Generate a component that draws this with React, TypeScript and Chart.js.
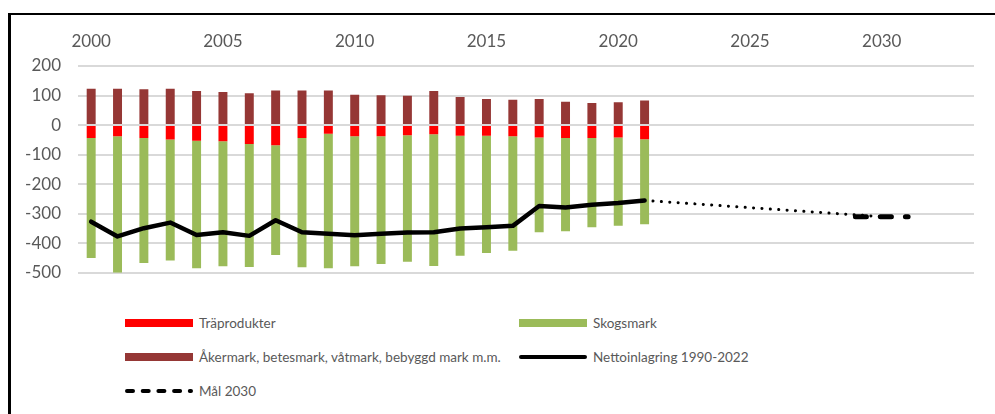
import React, { useEffect, useRef } from "react";
import { Chart, registerables } from "chart.js";

Chart.register(...registerables);

const years = [
  "2000", "2001", "2002", "2003", "2004", "2005", "2006", "2007", "2008", "2009",
  "2010", "2011", "2012", "2013", "2014", "2015", "2016", "2017", "2018", "2019",
  "2020", "2021", "2022", "2023", "2024", "2025", "2026", "2027", "2028", "2029",
  "2030", "2031", "2032", "2033",
];

const yTicks = [200, 100, 0, -100, -200, -300, -400, -500];

const traprodukter = [-44, -38, -44, -49, -53, -55, -64, -68, -44, -29, -38, -38, -34, -31, -36, -36, -38, -42, -44, -44, -42, -48];
const skogsmark = [-406, -462, -423, -409, -432, -423, -416, -372, -437, -456, -440, -432, -429, -446, -406, -397, -387, -321, -315, -302, -299, -288];
const akermark = [123, 123, 121, 123, 115, 112, 108, 117, 117, 117, 103, 101, 99, 115, 95, 88, 86, 88, 79, 75, 77, 83];
const netto = [-327, -377, -349, -330, -372, -363, -375, -322, -363, -368, -373, -368, -364, -363, -350, -346, -341, -274, -279, -270, -264, -255];
// projected path: [year, value]
const projection: [string, number][] = [["2021", -255], ["2030", -310]];
const mal2030: [string, number][] = [["2029", -310], ["2030", -310], ["2031", -310]];

const labels = {
  tra: "Träprodukter",
  skog: "Skogsmark",
  aker: "Åkermark, betesmark, våtmark, bebyggd mark m.m.",
  netto: "Nettoinlagring 1990-2022",
  mal: "Mål 2030",
};

const colors = {
  tra: "#FF0000",
  skog: "#9BBB59",
  aker: "#953735",
  line: "#000000",
  grid: "#D9D9D9",
  text: "#595959",
};

const FONT = "Lato, 'Open Sans', 'Noto Sans', sans-serif";

function pad(values: number[]): (number | null)[] {
  return years.map((_, i) => (i < values.length ? values[i] : null));
}
function sparse(points: [string, number][]): (number | null)[] {
  return years.map((y) => {
    const p = points.find((q) => q[0] === y);
    return p ? p[1] : null;
  });
}

type LegendItem = { label: string; kind: "box" | "line" | "dash"; color: string; x: number; y: number };
const legendItems: LegendItem[] = [
  { label: labels.tra, kind: "box", color: colors.tra, x: 125, y: 322.5 },
  { label: labels.skog, kind: "box", color: colors.skog, x: 519, y: 322.5 },
  { label: labels.aker, kind: "box", color: colors.aker, x: 125, y: 356.5 },
  { label: labels.netto, kind: "line", color: colors.line, x: 519, y: 356.5 },
  { label: labels.mal, kind: "dash", color: colors.line, x: 125, y: 390.5 },
];

export default function App() {
  const canvasRef = useRef<HTMLCanvasElement | null>(null);

  useEffect(() => {
    if (!canvasRef.current) return;
    const chart = new Chart(canvasRef.current, {
      type: "bar",
      data: {
        labels: years,
        datasets: [
          {
            type: "line",
            label: labels.netto,
            data: pad(netto),
            borderColor: colors.line,
            borderWidth: 4.5,
            pointRadius: 0,
            borderCapStyle: "round",
            borderJoinStyle: "round",
            stack: "l1",
            order: 0,
          } as any,
          {
            type: "line",
            label: "proj",
            data: sparse(projection),
            borderColor: colors.line,
            borderWidth: 3,
            borderDash: [0.1, 8.3],
            borderCapStyle: "round",
            pointRadius: 0,
            spanGaps: true,
            stack: "l2",
            order: 0,
          } as any,
          {
            type: "line",
            label: labels.mal,
            data: sparse(mal2030),
            borderColor: colors.line,
            borderWidth: 5,
            borderDash: [11, 14],
            borderCapStyle: "round",
            pointRadius: 0,
            stack: "l3",
            order: 0,
          } as any,
          {
            label: labels.tra,
            data: pad(traprodukter),
            backgroundColor: colors.tra,
            stack: "bars",
            order: 1,
          },
          {
            label: labels.skog,
            data: pad(skogsmark),
            backgroundColor: colors.skog,
            stack: "bars",
            order: 1,
          },
          {
            label: labels.aker,
            data: pad(akermark),
            backgroundColor: colors.aker,
            stack: "bars",
            order: 1,
          },
        ],
      },
      options: {
        animation: false,
        responsive: true,
        maintainAspectRatio: false,
        layout: { padding: { left: 0, right: 21, top: 0, bottom: 23 } },
        datasets: { bar: { categoryPercentage: 1, barPercentage: 0.34 } } as any,
        plugins: { legend: { display: false }, tooltip: { enabled: false } },
        scales: {
          x: {
            type: "category",
            position: "top",
            stacked: true,
            offset: true,
            grid: { display: false },
            border: { display: false },
            ticks: {
              autoSkip: false,
              maxRotation: 0,
              minRotation: 0,
              padding: 6,
              color: colors.text,
              font: { family: FONT, size: 17 },
              callback: function (this: any, _v: any, i: number) {
                const y = years[i];
                return Number(y) % 5 === 0 ? y : "";
              },
            },
            afterFit: (scale: any) => {
              scale.height = 51;
            },
          },
          y: {
            stacked: true,
            min: yTicks[yTicks.length - 1],
            max: yTicks[0],
            border: { display: false },
            grid: { color: colors.grid, lineWidth: 2, drawTicks: false },
            afterBuildTicks: (scale: any) => {
              scale.ticks = yTicks.map((v) => ({ value: v }));
            },
            ticks: {
              padding: 17,
              color: colors.text,
              font: { family: FONT, size: 17 },
            },
            afterFit: (scale: any) => {
              scale.width = 67;
            },
          },
        },
      },
    });
    return () => chart.destroy();
  }, []);

  return (
    <div style={{ position: "absolute", left: 0, top: 0, width: 995, height: 414, overflow: "hidden", background: "#fff" }}>
      <div
        style={{
          position: "absolute",
          left: 8,
          top: 13,
          width: 984,
          height: 399,
          borderTop: "2px solid #000",
          borderLeft: "3px solid #000",
        }}
      />
      <div style={{ position: "absolute", left: 11, top: 15, width: 984, height: 285 }}>
        <canvas ref={canvasRef} />
      </div>
      {legendItems.map((it) => (
        <div
          key={it.label}
          style={{
            position: "absolute",
            left: it.x,
            top: it.y - 10,
            height: 20,
            display: "flex",
            alignItems: "center",
            fontFamily: FONT,
            fontSize: 13.5,
            color: colors.text,
            whiteSpace: "nowrap",
          }}
        >
          <svg width={68} height={10} style={{ display: "block", marginRight: 6 }}>
            {it.kind === "box" && <rect x={0} y={1} width={68} height={8} fill={it.color} />}
            {it.kind === "line" && (
              <line x1={2} y1={5} x2={66} y2={5} stroke={it.color} strokeWidth={4} strokeLinecap="round" />
            )}
            {it.kind === "dash" && (
              <line x1={2} y1={5} x2={66} y2={5} stroke={it.color} strokeWidth={4} strokeLinecap="round" strokeDasharray="6 9.7" />
            )}
          </svg>
          <span>{it.label}</span>
        </div>
      ))}
    </div>
  );
}
